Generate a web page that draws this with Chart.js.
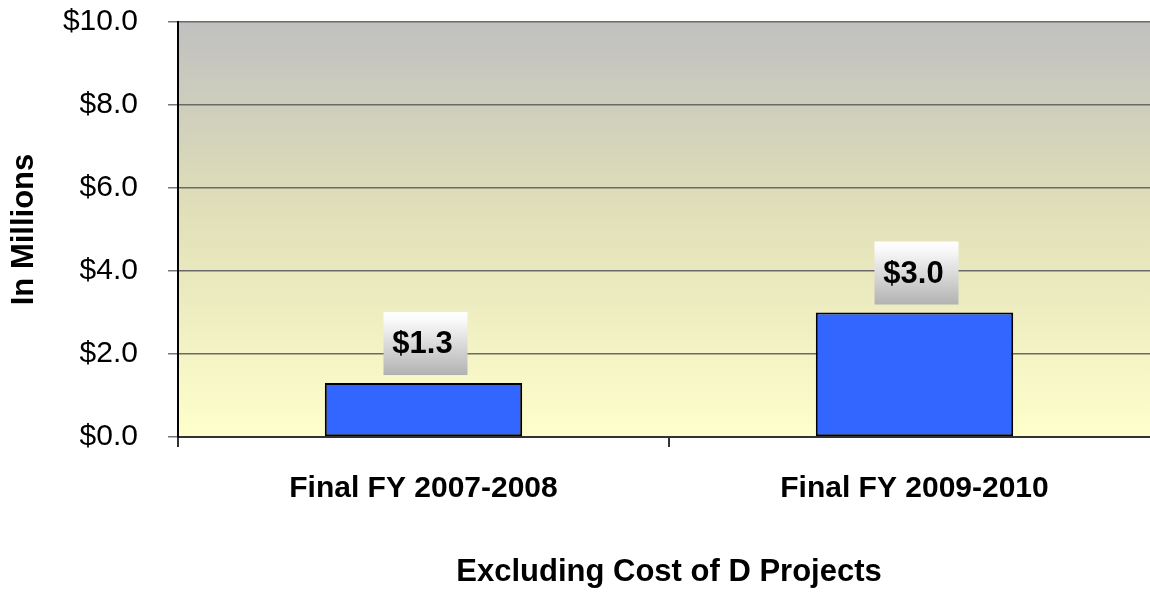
<!DOCTYPE html>
<html><head><meta charset="utf-8">
<script src="https://cdn.jsdelivr.net/npm/chart.js@4.4.1/dist/chart.umd.min.js"></script>
<style>
html,body{margin:0;padding:0;overflow:hidden;background:#fff;}
#wrap{position:relative;width:1160px;height:594px;}
</style></head><body>
<div id="wrap"><canvas id="c"></canvas></div>
<script>
const categories = ['Final FY 2007-2008', 'Final FY 2009-2010'];
const values = [1.3, 3.0];
const yMin = 0, yMax = 10, yStep = 2;
const yTitle = 'In Millions';
const xTitle = 'Excluding Cost of D Projects';

const FONT = "'Liberation Sans', Arial, Helvetica, sans-serif";
Chart.defaults.font.family = FONT;
Chart.defaults.color = '#000';

const bgPlugin = {
  id: 'bg',
  beforeDraw(chart) {
    const {ctx, chartArea: a} = chart;
    const g = ctx.createLinearGradient(0, a.top, 0, a.bottom);
    g.addColorStop(0, '#c0c0c0');
    g.addColorStop(0.45, '#e0dfb8');
    g.addColorStop(1, '#ffffcc');
    ctx.save();
    ctx.fillStyle = g;
    ctx.fillRect(a.left, a.top, a.right - a.left, a.bottom - a.top);
    ctx.restore();
  }
};

const labelPlugin = {
  id: 'boxLabels',
  afterDatasetsDraw(chart) {
    const {ctx} = chart;
    const meta = chart.getDatasetMeta(0);
    meta.data.forEach((bar, i) => {
      const w = 84, h = 63;
      const bx = bar.x + 2 - w / 2;
      const by = bar.y - 8 - h;
      const g = ctx.createLinearGradient(0, by, 0, by + h);
      g.addColorStop(0, '#ffffff');
      g.addColorStop(0.15, '#f8f8f8');
      g.addColorStop(1, '#b2b2b2');
      ctx.save();
      ctx.fillStyle = g;
      ctx.fillRect(bx, by, w, h);
      ctx.fillStyle = '#000';
      ctx.font = 'bold 31px ' + FONT;
      ctx.textAlign = 'center';
      ctx.textBaseline = 'middle';
      ctx.fillText('$' + values[i].toFixed(1), bar.x - 1, by + h / 2 + 1);
      ctx.restore();
    });
  }
};

new Chart(document.getElementById('c'), {
  type: 'bar',
  data: {
    labels: categories,
    datasets: [{
      data: values,
      backgroundColor: '#3366ff',
      borderColor: '#000',
      borderWidth: 2,
      borderSkipped: false,
      barPercentage: 0.402,
      categoryPercentage: 1.0
    }]
  },
  options: {
    responsive: true,
    maintainAspectRatio: false,
    animation: false,
    devicePixelRatio: 1,
    layout: {padding: {top: 22, left: 0, right: 0, bottom: 0}},
    plugins: {legend: {display: false}, tooltip: {enabled: false}},
    scales: {
      x: {
        type: 'category',
        offset: true,
        grid: {display: true, drawOnChartArea: false, drawTicks: true, tickLength: 10, color: '#333', offset: true, lineWidth: 2},
        border: {display: true, color: '#333', width: 2},
        ticks: {font: {size: 30, weight: 'bold'}, color: '#000', padding: 24, maxRotation: 0},
        title: {display: true, text: xTitle, font: {size: 31, weight: 'bold', lineHeight: 1}, color: '#000', padding: {top: 0, bottom: 6}},
        afterFit(s) { s.height = 157; s.paddingLeft = 0; s.paddingRight = 0; }
      },
      y: {
        min: yMin, max: yMax,
        ticks: {stepSize: yStep, font: {size: 30}, color: '#000', padding: 30,
          callback: v => '$' + Number(v).toFixed(1)},
        grid: {color: '#6a6a6a', lineWidth: 1.5, tickLength: 10, tickColor: '#777'},
        border: {display: true, color: '#000', width: 2},
        title: {display: true, text: yTitle, font: {size: 31, weight: 'bold', lineHeight: 1}, color: '#000', padding: {top: 9, bottom: 0}},
        afterFit(s) { s.width = 178; s.paddingTop = 0; s.paddingBottom = 0; }
      }
    }
  },
  plugins: [bgPlugin, labelPlugin]
});
</script>
</body></html>
